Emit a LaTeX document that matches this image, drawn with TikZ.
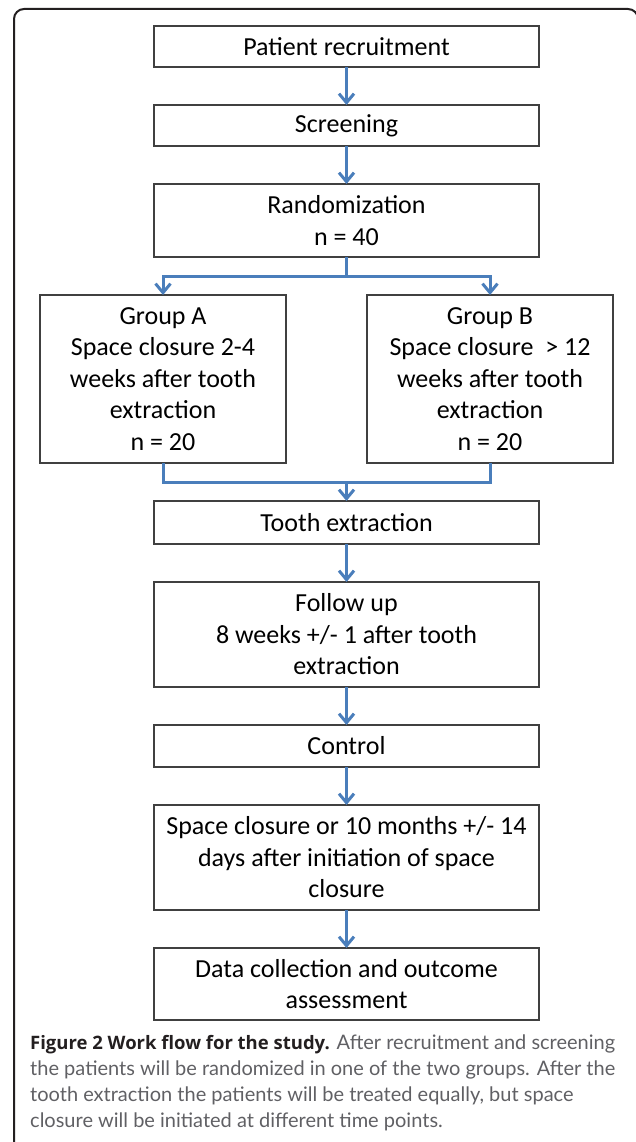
\documentclass[tikz,border=0pt]{standalone}
\usepackage{fontspec}
\setmainfont{Carlito}
\newfontfamily\capfont{Lato}
\newfontfamily\capboldfont{Open Sans}
\usetikzlibrary{positioning,calc,arrows.meta}
\definecolor{flowblue}{RGB}{74,126,187}
\definecolor{boxgray}{RGB}{64,64,64}
\definecolor{capgray}{RGB}{96,96,100}
\definecolor{capdark}{RGB}{35,31,32}

\begin{document}
\begin{tikzpicture}[x=1pt,y=1pt,
    node distance=38pt,
    box/.style={draw=boxgray,line width=1.5pt,minimum width=385pt,minimum height=41pt,
      align=center,inner sep=0pt,outer sep=0pt,font=\fontsize{26}{31.5}\selectfont},
    groupbox/.style={box,minimum width=246pt,minimum height=168pt},
    flowline/.style={draw=flowblue,line width=3pt},
    flow/.style={flowline,-{Straight Barb[length=9pt,width=15pt]}}]
    \useasboundingbox (0,0) rectangle (636,-1142);
    \clip (0,0) rectangle (636,-1142);
    \draw[capdark,line width=2pt,rounded corners=10pt] (14,-9) rectangle (638,-1160);

    \node[box] (recruit) at (346.5,-46.5) {Patient recruitment};
    \node[box] (screen) [below=of recruit] {Screening};
    \node[box,minimum height=73pt] (rand) [below=of screen] {Randomization\\n = 40};
    \node[groupbox] (grpA) [below=of rand,xshift=-183.5pt] {Group A\\Space closure 2-4\\weeks after tooth\\extraction\\n = 20};
    \node[groupbox] (grpB) [right=81pt of grpA] {Group B\\Space closure~ > 12\\weeks after tooth\\extraction\\n = 20};
    \coordinate (mid) at (rand |- grpA.south);
    \node[box,minimum height=43pt] (tooth) [below=of mid] {Tooth extraction};
    \node[box,minimum height=105pt] (follow) [below=of tooth] {Follow up\\8 weeks +/- 1 after tooth\\extraction};
    \node[box,minimum height=42pt] (control) [below=of follow] {Control};
    \node[box,minimum height=105pt] (closure) [below=of control] {Space closure or 10 months +/- 14\\days after initiation of space\\closure};
    \node[box,minimum height=72pt] (data) [below=of closure] {Data collection and outcome\\assessment};
    \node[anchor=north west,align=left,inner sep=0pt,text=capgray,
      font=\capfont\fontsize{20}{26}\selectfont] (caption) at (30,-1035)
      {{\capboldfont\fontsize{18.5}{26}\selectfont\bfseries\color{capdark}Figure 2 Work flow for the study.} After recruitment and screening\\
       the patients will be randomized in one of the two groups. After the\\
       tooth extraction the patients will be treated equally, but space\\
       closure will be initiated at different time points.};

    \coordinate (split) at ($(rand.south)!0.5!(grpA.north)$);
    \coordinate (join) at ($(grpA.south)!0.5!(tooth.north)$);
    \draw[flow] (recruit) -- (screen);
    \draw[flow] (screen) -- (rand);
    \draw[flowline] (rand.south) -- (split -| rand.south);
    \draw[flow] (split -| rand.south) -| (grpA.north);
    \draw[flow] (split -| rand.south) -| (grpB.north);
    \draw[flowline] (grpA.south) |- (join) -| (grpB.south);
    \draw[flow] (join -| tooth.north) -- (tooth.north);
    \draw[flow] (tooth) -- (follow);
    \draw[flow] (follow) -- (control);
    \draw[flow] (control) -- (closure);
    \draw[flow] (closure) -- (data);
\end{tikzpicture}
\end{document}
